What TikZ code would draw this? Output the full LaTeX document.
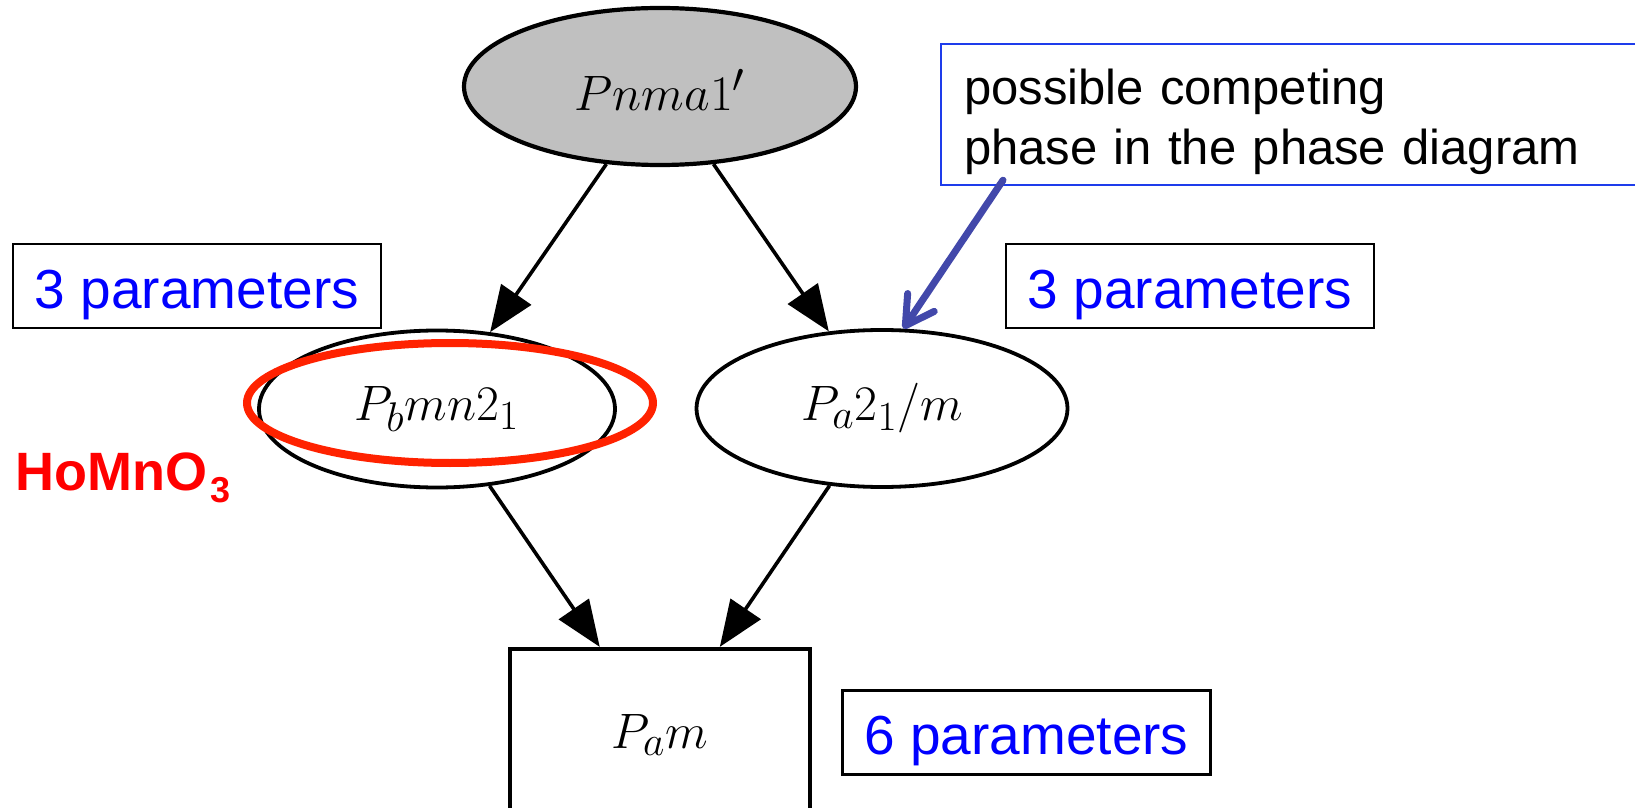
\documentclass[tikz,border=0pt]{standalone}
\usepackage{fontspec}
\usetikzlibrary{shapes.geometric,arrows.meta,calc}
\newfontfamily\arialf{Liberation Sans}
\definecolor{nodegray}{RGB}{192,192,192}
\definecolor{paramblue}{RGB}{0,0,255}
\definecolor{callblue}{RGB}{30,60,235}
\definecolor{arrowblue}{RGB}{66,72,170}
\definecolor{markred}{RGB}{255,34,0}
\definecolor{labelred}{RGB}{255,0,0}
\begin{document}
\begin{tikzpicture}[x=0.5pt,y=-0.5pt,
  grp/.style={ellipse, draw, line width=1.9pt, inner sep=0pt,
    font=\fontsize{24.88}{29}\selectfont},
  edge/.style={line width=1.8pt, -{Triangle[length=23pt,width=18pt]}},
  param/.style={draw, line width=1.3pt, minimum width=184pt, minimum height=42pt,
    inner sep=0pt, text=paramblue, font=\arialf\fontsize{27.5}{32}\selectfont,
    text height=22pt, text depth=0pt},
  callout/.style={draw=callblue, line width=1.1pt, text=black,
    font=\arialf\fontsize{24.5}{30}\selectfont, align=left, text width=335pt,
    inner xsep=11.5pt, inner ysep=0pt},
  pointer/.style={draw=arrowblue, line width=3.5pt, line cap=round,
    -{Straight Barb[length=14pt,width=16pt,round]}},
  marker/.style={draw=markred, line width=4pt}]
\useasboundingbox (0,0) rectangle (1635,808);
\clip (0,0) rectangle (1635,808);
\fill[white] (0,0) rectangle (1635,808);

\node[grp, fill=nodegray, line width=2.1pt, minimum width=196pt, minimum height=78.5pt] (top) at (660,86.5) {\rule{0pt}{24pt}$Pnma1'$};
\node[grp, minimum width=178pt, minimum height=78.5pt] (pb) at (437,409) {$P_bmn2_1$};
\node[grp, minimum width=185.5pt, minimum height=78.5pt] (pa) at (882,408.5) {$P_a2_1/m$};
\node[draw, line width=2.1pt, minimum width=150pt, minimum height=86pt, inner sep=0pt,
  font=\fontsize{24.88}{29}\selectfont] (pam) at (660,735) {$P_am$};

\draw[edge] (top) -- (pb);
\draw[edge] (top) -- (pa);
\draw[edge] (pb) -- (pam);
\draw[edge] (pa) -- (pam);

\node[param] (p3l) at (197,286) {3 parameters};
\node[param] (p3r) at (1190,286) {3 parameters};
\node[param] (p6) at (1026.5,732.5) {6 parameters};

\node[callout, anchor=north west] (call) at (940,43)
  {\rule{0pt}{30pt}possible competing\\phase in the phase diagram\rule[-10.5pt]{0pt}{10.5pt}};
\draw[pointer] ($(call.south west)+(63,-6)$) -- (pa.75);

\draw[marker] (450,403) ellipse [x radius=101.5pt, y radius=30pt];

\node[anchor=base west, inner sep=0pt, text=labelred,
  font=\arialf\bfseries\fontsize{27}{30}\selectfont] (homno) at (15,490)
  {HoMnO\hspace{1.5pt}\raisebox{-6pt}{\fontsize{18}{20}\selectfont 3}};
\end{tikzpicture}
\end{document}
